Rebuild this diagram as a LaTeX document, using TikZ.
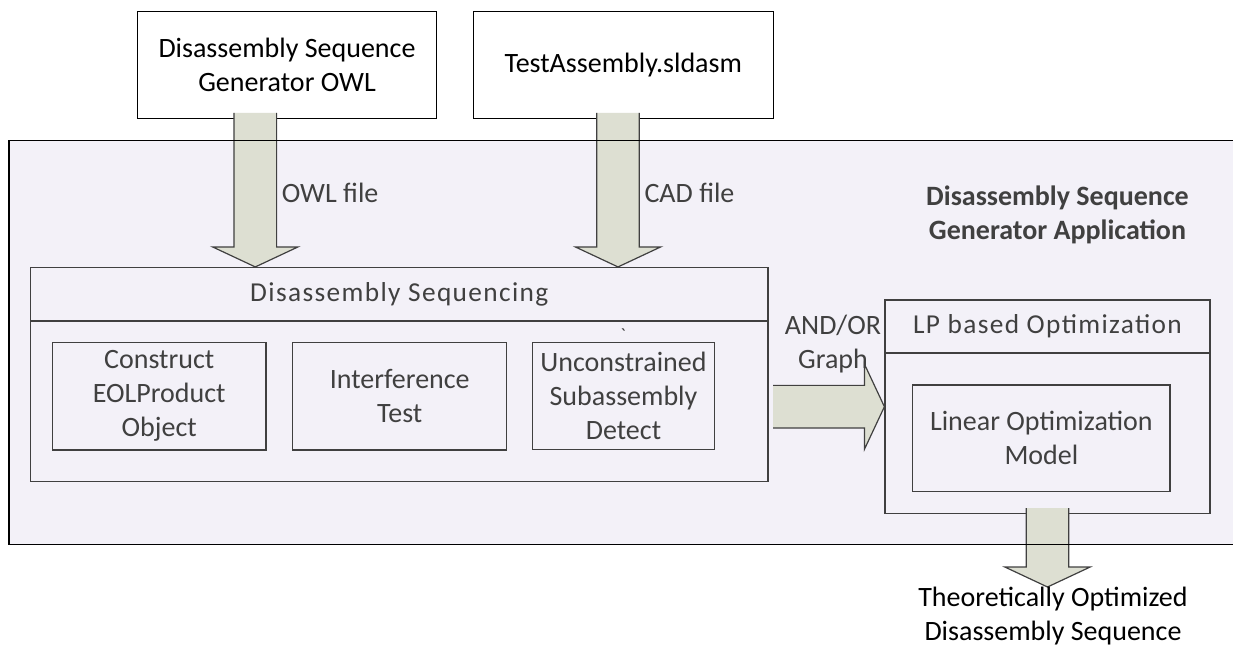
\documentclass[tikz,border=0pt]{standalone}
\usepackage{fontspec}
\setmainfont{Carlito}
\newfontfamily\spacedfont[LetterSpace=5]{Carlito}
\usepackage{xcolor}
\usetikzlibrary{positioning,calc}

\definecolor{appbg}{RGB}{243,241,248}
\definecolor{arrowfill}{RGB}{221,223,210}
\definecolor{boxline}{RGB}{64,64,64}

\tikzset{
  every node/.style={font=\fontsize{21pt}{25.5pt}\selectfont},
  filebox/.style={draw=black,line width=1pt,fill=white,align=center,minimum height=80pt},
  partbox/.style={draw=boxline,line width=0.9pt,align=center,text=boxline},
  stepbox/.style={draw=boxline,line width=0.9pt,align=center,text=boxline,minimum height=80.5pt},
  spaced/.style={font=\spacedfont\fontsize{20.5pt}{25pt}\selectfont},
  lbl/.style={inner sep=0pt,text=boxline},
  fatarrow/.style={draw=boxline,line width=0.9pt,fill=arrowfill,line join=miter,
    to path={($(\tikztostart)!16pt!90:(\tikztotarget)$)
      -- ($(\tikztotarget)!15pt!(\tikztostart)!16pt!90:(\tikztotarget)$)
      -- ($(\tikztotarget)!15pt!(\tikztostart)!32pt!90:(\tikztotarget)$)
      -- (\tikztotarget)
      -- ($(\tikztotarget)!15pt!(\tikztostart)!32pt!-90:(\tikztotarget)$)
      -- ($(\tikztotarget)!15pt!(\tikztostart)!16pt!-90:(\tikztotarget)$)
      -- ($(\tikztostart)!16pt!-90:(\tikztotarget)$)}}
}

\begin{document}
\begin{tikzpicture}[x=0.75pt,y=-0.75pt]
\useasboundingbox (0,0) rectangle (1233,649);

% application area
\node[fill=appbg,minimum width=917.8pt,minimum height=302.6pt] (app) at (621.15,342.25) {};
\node[lbl,align=center,font=\bfseries\fontsize{21pt}{25.3pt}\selectfont] (apptitle) at (1057.5,215) {Disassembly Sequence\\Generator Application};

% input files
\node[filebox,minimum width=224.5pt] (owl) at (287,65) {Disassembly Sequence\\Generator OWL};
\node[filebox,minimum width=225pt] (cad) at (623.3,65) {TestAssembly.sldasm};

% sequencing
\node[partbox,minimum width=553pt,minimum height=160.6pt] (dseq) at (399.3,374.6) {};
\node[partbox,spaced,minimum width=553pt,minimum height=40.1pt,anchor=north] (dseqhead) at (dseq.north) {Disassembly Sequencing};
\node[stepbox,minimum width=160.3pt] (construct) at (159.2,396.3) {Construct\\EOLProduct\\Object};
\node[stepbox,minimum width=160.5pt] (interf) at (399.7,396.3) {Interference\\Test};
\node[stepbox,minimum width=136.2pt] (detect) at (623.5,396) {Unconstrained\\Subassembly\\Detect};
\node[lbl,anchor=base,font=\fontsize{14pt}{16pt}\selectfont] (tick) at (623,341) {\textasciigrave};

% optimization
\node[partbox,minimum width=243.75pt,minimum height=160pt] (lp) at (1047.5,406.7) {};
\node[partbox,spaced,minimum width=243.75pt,minimum height=39.75pt,anchor=north] (lphead) at (lp.north) {LP based Optimization};
\node[stepbox,minimum width=193pt,minimum height=80pt] (model) at (1041.4,438.3) {Linear Optimization\\Model};

% block arrows
\coordinate (owlout) at (255.3,113);
\coordinate (owlin) at (owlout |- dseq.north);
\coordinate (cadout) at (618,113);
\coordinate (cadin) at (cadout |- dseq.north);
\coordinate (graphout) at (773,406.7);
\coordinate (graphin) at (graphout -| lp.west);
\coordinate (optout) at (1047.5,508);
\coordinate (optin) at (1047.5,587);
\draw[fatarrow] (owlout) to (owlin);
\draw[fatarrow] (cadout) to (cadin);
\draw[fatarrow] (graphout) to (graphin);
\draw[fatarrow] (optout) to (optin);

% frame, open on the right
\draw[line width=1pt] (app.north east) -- (app.north west) -- (app.south west) -- (app.south east);

% arrow labels
\node[lbl,anchor=west] (owllbl) at (281.7,193.3) {OWL file};
\node[lbl,anchor=west] (cadlbl) at (644.3,193.3) {CAD file};
\node[lbl,align=center] (graphlbl) at (833,343.7) {AND/OR\\Graph};
\node[lbl,align=center,text=black] (result) at (1053,616.5) {Theoretically Optimized\\Disassembly Sequence};
\end{tikzpicture}
\end{document}
